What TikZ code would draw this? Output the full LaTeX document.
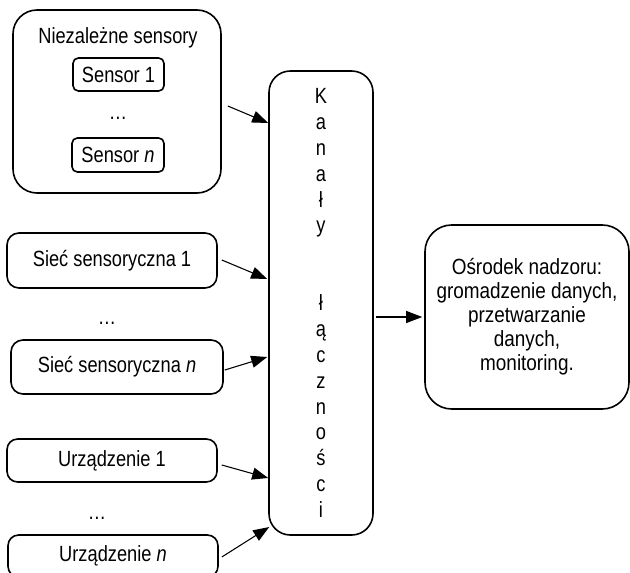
\documentclass[tikz,border=0pt]{standalone}
\usepackage{fontspec}
\setmainfont{Liberation Sans}[FakeStretch=0.83]
\newfontfamily\oodfont{Liberation Sans}[FakeStretch=0.86]
\usetikzlibrary{arrows.meta,calc}
\begin{document}
\begin{tikzpicture}[x=0.75pt,y=-0.75pt,
  every node/.style={font=\fontsize{16.5pt}{18pt}\selectfont, inner sep=0pt},
  box/.style={draw, line width=1.2pt, rounded corners=#1},
  box/.default=10,
  conn/.style={line width=0.8pt, -{Triangle[length=12pt,width=9pt]}}]
\clip (0,0) rectangle (630,573);
\fill[white] (0,0) rectangle (630,573);
% left column
\node[box=18, minimum width=208*0.75pt, minimum height=183*0.75pt] (sens) at (117,101.5) {};
\node (senst) at (118,38) {Niezależne sensory};
\node[box=4, minimum width=91*0.75pt, minimum height=33*0.75pt] (s1) at (118.5,74.5) {Sensor 1};
\node (d1) at (118,118) {\ldots};
\node[box=4, minimum width=92*0.75pt, minimum height=34*0.75pt] (sn) at (118,155) {Sensor \textit{n}};
\node[box=9, minimum width=210*0.75pt, minimum height=55*0.75pt] (siec1) at (112,260.5) {Sieć sensoryczna 1};
\node (d2) at (107,323) {\ldots};
\node[box=9, minimum width=212*0.75pt, minimum height=54*0.75pt] (siecn) at (117,367) {Sieć sensoryczna \textit{n}};
\node[box=8, minimum width=210*0.75pt, minimum height=43*0.75pt] (urz1) at (112,460.5) {Urządzenie 1};
\node (d3) at (97,518) {\ldots};
\node[box=8, minimum width=210*0.75pt, minimum height=42*0.75pt] (urzn) at (113,556) {Urządzenie \textit{n}};
% channels
\node[box=16, minimum width=104*0.75pt, minimum height=464*0.75pt, align=center,
      font=\fontsize{16.5pt}{19.4pt}\selectfont] (kan) at (321,303)
  {K\\a\\n\\a\\ł\\y\\\mbox{}\\\mbox{}\\ł\\ą\\c\\z\\n\\o\\ś\\c\\i};
% monitoring centre
\node[box=20, minimum width=204*0.75pt, minimum height=184*0.75pt, align=center,
      font=\oodfont\fontsize{16.5pt}{18pt}\selectfont] (ood) at (527,317)
  {Ośrodek nadzoru:\\gromadzenie danych,\\przetwarzanie\\danych,\\monitoring.};
% connectors
\draw[conn] ([shift={(6,4.5)}]sens.east) -- ([shift={(0,-180)}]kan.west);
\draw[conn] ([shift={(4,-0.5)}]siec1.east) -- ([shift={(-1,-24)}]kan.west);
\draw[conn] ([shift={(1,3)}]siecn.east) -- ([shift={(-1,54)}]kan.west);
\draw[conn] ([shift={(4,4.5)}]urz1.east) -- ([shift={(0,175)}]kan.west);
\draw[conn] ([shift={(3,1)}]urzn.east) -- ([shift={(1,224)}]kan.west);
\draw[conn] ([shift={(2,14)}]kan.east) -- ([shift={(-2,0)}]ood.west);
\end{tikzpicture}
\end{document}
